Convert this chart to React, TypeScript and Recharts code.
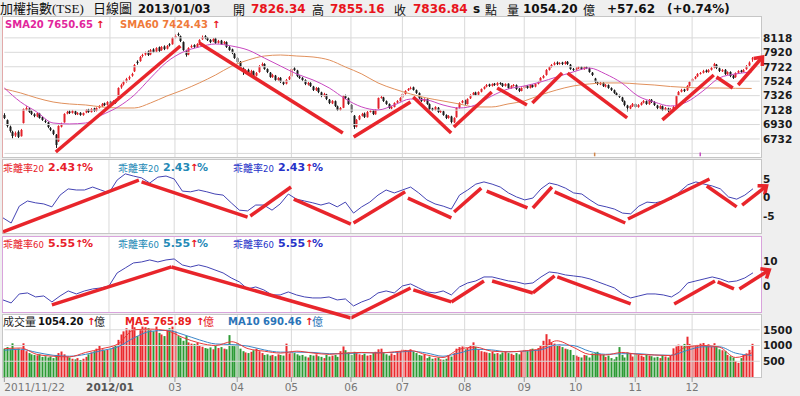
import React from "react";
import { ComposedChart, Bar, Line, XAxis, YAxis, ReferenceLine } from "recharts";

// ---------------- data ----------------
const OPEN = [
  7060,6990,6900,6830,6780,6830,6770,6950,7130,7150,
  7110,7070,7040,7080,7030,6980,6960,6880,6850,6790,
  6700,6900,6960,7080,7110,7090,7110,7070,7090,7060,
  7095,7135,7100,7150,7120,7160,7180,7220,7200,7245,
  7220,7260,7300,7440,7480,7520,7560,7600,7660,7790,
  7800,7870,7890,7930,7890,7960,7930,7990,7950,8000,
  7970,8030,8030,8120,8170,8140,8060,7940,7890,7990,
  8020,7990,8040,8100,8140,8120,8090,8070,8110,8050,
  8080,8040,8060,7990,7960,7900,7840,7790,7700,7640,
  7680,7620,7660,7600,7650,7740,7760,7690,7640,7580,
  7600,7540,7570,7510,7490,7550,7590,7700,7670,7590,
  7570,7540,7480,7500,7450,7400,7430,7370,7320,7340,
  7270,7220,7250,7180,7130,7160,7320,7290,7200,7050,
  6900,7000,7050,7080,7030,7110,7120,7070,7150,7300,
  7300,7250,7210,7150,7170,7230,7250,7300,7350,7400,
  7420,7440,7400,7360,7290,7250,7280,7210,7150,7130,
  7160,7100,7110,7060,7020,7040,6960,7030,7160,7230,
  7260,7210,7290,7340,7370,7340,7380,7420,7450,7480,
  7460,7490,7470,7500,7490,7460,7490,7430,7460,7470,
  7420,7390,7430,7460,7430,7470,7450,7490,7520,7570,
  7610,7680,7720,7750,7780,7760,7780,7760,7790,7750,
  7690,7680,7700,7720,7690,7720,7700,7640,7560,7510,
  7480,7500,7450,7470,7430,7400,7360,7330,7300,7250,
  7190,7150,7180,7210,7170,7200,7230,7250,7210,7270,
  7240,7190,7150,7180,7130,7150,7110,7140,7180,7330,
  7380,7410,7400,7460,7520,7560,7590,7630,7640,7670,
  7650,7680,7710,7750,7700,7660,7680,7620,7650,7600,
  7580,7640,7670,7650,7690,7740,7826.34,
];
const HIGH = [
  7085,7000,6915,6845,6835,6850,6870,7150,7180,7165,
  7125,7085,7100,7090,7045,7000,6970,6895,6860,6800,
  6920,6955,7085,7120,7125,7130,7120,7100,7100,7095,
  7140,7145,7155,7160,7165,7195,7225,7230,7250,7255,
  7265,7275,7440,7490,7530,7570,7600,7640,7760,7810,
  7870,7900,7930,7945,7965,7975,7990,8000,8005,8015,
  8020,8045,8130,8165,8190,8150,8070,7955,7990,8025,
  8030,8045,8100,8150,8155,8130,8100,8115,8120,8090,
  8090,8075,8070,8005,7970,7910,7855,7800,7715,7690,
  7695,7680,7670,7650,7745,7780,7770,7700,7650,7625,
  7610,7580,7580,7525,7555,7595,7705,7715,7680,7605,
  7580,7550,7515,7510,7460,7445,7440,7380,7365,7350,
  7280,7265,7260,7190,7170,7335,7340,7300,7210,7060,
  7005,7060,7090,7095,7115,7130,7130,7140,7300,7325,
  7310,7260,7220,7185,7235,7265,7305,7360,7400,7430,
  7450,7450,7410,7370,7300,7290,7290,7220,7160,7180,
  7170,7130,7120,7070,7060,7050,7030,7165,7235,7265,
  7270,7290,7345,7375,7380,7385,7425,7455,7485,7490,
  7495,7500,7510,7510,7500,7495,7495,7470,7485,7480,
  7430,7440,7470,7470,7480,7480,7495,7525,7580,7610,
  7690,7730,7760,7790,7795,7785,7790,7800,7800,7760,
  7705,7715,7730,7730,7725,7730,7710,7650,7570,7520,
  7515,7510,7485,7480,7440,7410,7370,7340,7310,7260,
  7200,7195,7225,7220,7210,7240,7265,7260,7280,7280,
  7250,7200,7195,7190,7170,7160,7155,7185,7330,7390,
  7420,7420,7470,7525,7565,7595,7635,7650,7680,7685,
  7690,7720,7775,7760,7710,7690,7690,7660,7660,7610,
  7645,7675,7680,7690,7745,7795,7855.16,
];
const LOW = [
  7005,6890,6820,6740,6760,6745,6765,6945,7120,7090,
  7060,7030,7030,7010,6980,6950,6880,6840,6785,6609,
  6690,6890,6955,7070,7075,7080,7060,7060,7050,7050,
  7085,7090,7095,7105,7110,7150,7170,7185,7190,7200,
  7210,7215,7295,7420,7465,7505,7540,7585,7650,7750,
  7790,7850,7875,7870,7880,7910,7920,7925,7940,7950,
  7960,8000,8025,8110,8140,8060,7940,7860,7880,7980,
  7980,7985,8030,8090,8100,8075,8045,8060,8035,8040,
  8020,8030,7980,7940,7895,7830,7770,7690,7610,7625,
  7605,7610,7580,7590,7640,7725,7680,7635,7570,7570,
  7525,7530,7500,7470,7480,7540,7585,7665,7580,7555,
  7525,7470,7465,7445,7390,7390,7360,7305,7310,7265,
  7210,7210,7170,7115,7120,7155,7280,7200,7090,6870,
  6890,6990,7040,7020,7025,7095,7060,7065,7145,7285,
  7240,7200,7145,7140,7165,7220,7245,7295,7340,7390,
  7410,7395,7350,7280,7240,7240,7200,7130,7115,7120,
  7090,7090,7050,7005,7010,6945,6950,7025,7150,7220,
  7200,7205,7280,7330,7325,7330,7370,7410,7440,7445,
  7450,7460,7460,7475,7445,7450,7420,7420,7450,7405,
  7375,7385,7420,7420,7425,7435,7440,7480,7510,7560,
  7600,7670,7710,7740,7745,7750,7745,7750,7745,7680,
  7665,7670,7690,7680,7680,7690,7640,7595,7500,7470,
  7470,7445,7440,7420,7390,7350,7320,7295,7240,7180,
  7110,7140,7170,7160,7160,7190,7220,7200,7200,7225,
  7185,7140,7140,7115,7120,7100,7100,7130,7175,7320,
  7370,7375,7390,7450,7510,7550,7580,7615,7630,7640,
  7640,7670,7700,7690,7650,7650,7610,7610,7580,7555,
  7570,7630,7640,7645,7680,7730,7790,
];
const CLOSE = [
  7020,6910,6842,6773,6815,6760,6855,7143,7157,7102,
  7075,7047,7088,7020,6993,6965,6896,6856,6801,6650,
  6910,6938,7075,7102,7088,7116,7075,7088,7061,7088,
  7130,7102,7143,7116,7157,7185,7212,7198,7239,7212,
  7253,7226,7431,7472,7513,7554,7582,7623,7746,7773,
  7856,7883,7910,7883,7951,7924,7979,7938,7993,7965,
  8006,8020,8116,8143,8157,8075,7951,7883,7979,8006,
  7993,8034,8088,8130,8116,8088,8061,8102,8047,8075,
  8034,8061,7993,7951,7910,7842,7787,7705,7650,7677,
  7623,7664,7595,7636,7732,7760,7691,7650,7582,7609,
  7541,7568,7513,7486,7541,7582,7691,7677,7595,7568,
  7541,7486,7500,7458,7404,7431,7376,7321,7349,7280,
  7225,7253,7184,7130,7157,7321,7294,7212,7102,6897,
  6993,7047,7075,7034,7102,7116,7075,7130,7294,7308,
  7253,7212,7157,7171,7226,7253,7294,7349,7390,7417,
  7431,7404,7363,7294,7253,7280,7212,7143,7130,7171,
  7102,7116,7061,7020,7047,6965,7020,7157,7225,7253,
  7212,7280,7335,7363,7335,7376,7417,7445,7472,7458,
  7486,7472,7500,7486,7458,7486,7431,7458,7472,7417,
  7390,7431,7458,7431,7472,7445,7486,7513,7568,7595,
  7677,7718,7746,7773,7760,7773,7760,7787,7760,7691,
  7677,7705,7718,7691,7718,7705,7650,7609,7513,7486,
  7500,7458,7472,7431,7404,7363,7335,7308,7253,7198,
  7157,7184,7212,7171,7198,7226,7253,7212,7267,7239,
  7198,7157,7184,7130,7157,7116,7143,7171,7321,7376,
  7404,7390,7458,7513,7554,7582,7623,7636,7664,7650,
  7677,7705,7760,7705,7664,7677,7623,7650,7595,7568,
  7636,7664,7650,7677,7732,7779.22,7836.84,
];
const VOLUME = [
  900,950,880,1070,870,900,860,1070,820,760,
  720,700,690,720,640,660,620,650,600,700,
  760,810,720,640,620,580,560,600,540,580,
  640,720,780,820,900,985,880,850,860,900,
  950,1000,1180,1350,1450,1550,1500,1656,1580,1300,
  1500,1600,1580,1550,1500,1450,1600,1400,1350,1300,
  1500,1550,1600,1450,1300,1250,1150,1300,1100,1060,
  1050,1080,1000,960,920,900,940,880,1000,920,
  950,900,880,1330,1000,980,1073,900,820,780,
  760,800,850,900,820,760,700,720,680,700,
  660,720,700,680,1060,750,800,760,720,680,
  700,650,620,700,680,720,660,640,600,700,
  650,680,700,640,820,970,850,780,700,800,
  760,720,700,740,680,700,760,800,880,900,
  760,720,680,750,700,800,820,870,860,830,
  880,800,760,700,680,720,600,650,580,600,
  620,560,550,580,700,650,760,900,950,970,
  880,920,1000,1100,960,880,820,800,780,760,
  800,740,760,720,780,800,760,740,700,760,
  720,800,860,820,880,900,850,920,1000,1150,
  1360,1200,1100,1060,1000,1030,950,900,880,860,
  700,680,640,620,700,680,620,750,760,800,
  720,700,640,680,600,560,640,950,700,620,
  780,760,650,720,700,680,640,700,680,660,
  620,640,600,700,650,620,680,910,970,1030,
  1000,1050,1280,1050,1000,980,1020,1060,1080,1000,
  1040,970,1073,950,880,850,820,700,660,620,
  510,450,600,700,750,860,1054.2,
];

// moving averages, read every 6 sessions
const MA_STEP = 6;
const SMA20 = [7431,7239,7102,6951,6938,6951,7061,7171,7335,7568,7787,7924,7993,8034,8006,7951,7842,7732,7623,7541,7431,7280,7171,7130,7198,7280,7267,7198,7157,7198,7321,7417,7458,7513,7582,7650,7705,7623,7500,7321,7239,7184,7239,7390,7568,7623,7650.65];
const SMA60 = [7418,7363,7294,7239,7212,7198,7171,7157,7157,7226,7321,7404,7500,7609,7732,7814,7869,7883,7869,7856,7814,7718,7623,7500,7417,7349,7294,7253,7212,7171,7171,7212,7253,7335,7404,7458,7486,7500,7500,7486,7472,7451,7438,7431,7431,7427,7424.43];
const VOL_MA5 = [900,920,720,660,640,780,900,1050,1500,1520,1470,1250,1080,1000,1120,900,820,760,820,760,720,760,780,760,800,840,700,620,880,950,820,800,830,900,1150,950,720,700,780,720,700,680,960,1000,950,620,765.89];
const VOL_MA10 = [850,880,780,690,660,720,840,960,1250,1450,1480,1350,1180,1050,1030,980,860,790,790,780,740,740,770,770,780,820,760,660,760,880,860,800,820,860,1020,1000,820,720,740,740,700,690,840,960,960,760,690.46];

// bias ratios, read every 3 sessions
const BIAS_STEP = 3;
const BIAS20 = [
  -5.5,-6.9,-2.3,-0.9,-1.4,-1.7,-2.5,0.7,2.4,2.1,
  2.1,2.9,2.1,1.3,4.8,6.5,5.9,5.4,4.0,5.6,
  5.9,5.1,1.8,1.6,2.1,1.6,1.0,0.7,-1.4,-3.4,
  -3.6,-2.0,-2.0,-3.4,-1.7,1.0,-0.4,-0.9,-1.4,-2.0,
  -1.4,-2.5,-1.2,-4.2,-2.5,-1.2,0.7,2.1,1.3,2.1,
  2.9,1.3,-0.6,-1.7,-2.3,-3.1,0.7,2.1,3.7,4.3,
  3.7,2.9,1.3,0.2,-0.6,-0.1,2.4,4.0,3.5,2.6,
  1.3,1.0,-0.6,-2.0,-2.5,-3.1,-4.2,-4.4,-2.3,-1.2,
  -1.4,-0.9,-0.4,1.6,3.5,4.3,3.7,3.2,2.4,0.2,
  -0.4,0.7,2.43,
];
const BIAS60 = [
  -5.3,-6.5,-2.9,-2.5,-4.1,-3.7,-6.1,-3.7,-1.7,-2.9,
  -1.7,-0.9,-0.5,0.3,5.5,7.5,9.5,9.9,10.7,9.9,
  10.7,11.1,8.7,7.9,8.7,7.9,6.7,5.5,3.5,1.9,
  -0.9,-0.1,-1.3,-3.3,-3.3,-2.1,-3.3,-4.1,-4.5,-4.5,
  -4.1,-5.3,-4.9,-7.7,-6.1,-4.9,-2.5,-1.7,-2.5,0.3,
  1.1,-0.5,-2.1,-2.5,-1.7,-3.3,-0.1,1.5,2.3,3.9,
  3.9,3.1,2.3,1.9,1.1,1.5,3.9,5.9,5.5,4.7,
  4.3,3.9,3.1,1.9,0.7,-0.5,-2.9,-4.5,-3.7,-2.9,
  -2.9,-3.3,-4.1,-2.1,1.5,2.3,3.1,3.9,3.1,1.9,
  2.3,3.5,5.55,
];

// hand-drawn trend annotations: [startSession, startValue, endSession, endValue]
const PRICE_TRENDS = [
  [19,6554,65,8006],[72,8047,125,6814],[129,6760,150,7239],[151,7308,165,6814],
  [166,6897,180,7376],[182,7431,193,7198],[195,7225,206,7636],[208,7636,230,7020],
  [243,6993,262,7609],[263,7582,269,7431],
];
const PRICE_ARROW = [271,7472,280,7856];
const BIAS20_TRENDS = [
  [0,-9.3,50,4.8],[51,4.3,90,-5.3],[91,-5.0,106,2.9],[107,-0.4,128,-7.2],
  [129,-6.9,148,1.6],[149,-0.1,165,-5.5],[166,-3.9,176,2.6],[178,1.8,193,-2.8],
  [195,-2.8,202,2.9],[203,1.6,229,-6.9],[230,-5.8,260,5.1],[259,3.2,270,-2.5],
];
const BIAS20_ARROW = [272,-2.0,281,3.2];
const BIAS60_TRENDS = [
  [18,-7.3,62,7.9],[62,7.9,128,-12.5],[128,-12.5,150,-0.5],[151,-1.3,165,-6.1],
  [165,-6.1,177,2.3],[180,2.3,195,-2.5],[195,-2.5,203,4.3],[204,3.9,231,-6.9],
  [247,-6.9,262,2.3],[263,1.9,269,-0.9],
];
const BIAS60_ARROW = [271,-0.9,282,6.7];

// small event markers at the foot of the price panel: [session, color]
const EVENT_MARKS: [number, string][] = [[218, "#d0864a"], [257, "#c44cc0"]];
const EVENT_SPAN = [6495, 6545];

// axes
const MONTH_TICKS = [0,39,63,86,106,128,147,170,192,211,233,254];
const MONTH_LABELS = ["2011/11/22","2012/01","03","04","05","06","07","08","09","10","11","12"];
const PRICE_TICKS = [8118,7920,7722,7524,7326,7128,6930,6732];
const PRICE_GRID = [8118,7920,7722,7524,7326,7128,6930,6732,6534];
const BIAS20_TICKS = [5,0,-5];
const BIAS60_TICKS = [10,0];
const VOL_TICKS = [1500,1000,500];
const PRICE_DOMAIN = [6485, 8404];
const BIAS20_DOMAIN = [-9.62, 10.27];
const BIAS60_DOMAIN = [-10.12, 19.88];
const VOL_DOMAIN = [0, 1969];

// ---------------- layout / style ----------------
const SLOTS = 284;
const GRID_END = 279;
const PLOT_W = 769;
const AXIS_W = 40;
const PAD = 8;
const BG = "#efefef";
const GRID = "#d9d9d9";
const UP = "#e4222a";
const DOWN = "#1a1a1a";
const VUP = "#ea2a2e";
const VDOWN = "#2c9a34";
const TREND = "#e8252b";
const LATIN = '"DejaVu Sans", Verdana, sans-serif';
const CJK = '"Noto Sans CJK TC", "Noto Sans CJK SC", sans-serif';
const TITLE_FONT = '"Liberation Serif", "Noto Sans CJK TC", serif';

const last = (a: number[]) => a[a.length - 1];

const rows = Array.from({ length: SLOTS }, (_, i) => {
  const has = i < CLOSE.length;
  const m = i % MA_STEP === 0 && i / MA_STEP < SMA20.length;
  const b = i % BIAS_STEP === 0 && i / BIAS_STEP < BIAS20.length;
  return {
    i,
    hl: has ? [LOW[i], HIGH[i]] : null,
    o: has ? OPEN[i] : null,
    h: has ? HIGH[i] : null,
    l: has ? LOW[i] : null,
    c: has ? CLOSE[i] : null,
    v: has ? VOLUME[i] : null,
    up: has ? CLOSE[i] >= OPEN[i] : false,
    sma20: m ? SMA20[i / MA_STEP] : null,
    sma60: m ? SMA60[i / MA_STEP] : null,
    vma5: m ? VOL_MA5[i / MA_STEP] : null,
    vma10: m ? VOL_MA10[i / MA_STEP] : null,
    b20: b ? BIAS20[i / BIAS_STEP] : null,
    b60: b ? BIAS60[i / BIAS_STEP] : null,
  };
});

const Candle = (p: any) => {
  const { x, y, width, height, payload } = p;
  if (!payload || payload.h == null) return <g />;
  const top = Math.min(y, y + height);
  const bot = Math.max(y, y + height);
  const span = payload.h - payload.l;
  const toPix = (v: number) => (span > 0 ? top + ((payload.h - v) / span) * (bot - top) : top);
  const cx = Math.round(x + width / 2);
  const color = payload.c >= payload.o ? UP : DOWN;
  const yo = toPix(payload.o);
  const yc = toPix(payload.c);
  const bt = Math.min(yo, yc);
  const bh = Math.max(1, Math.abs(yo - yc));
  return (
    <g>
      <line x1={cx + 0.5} x2={cx + 0.5} y1={top} y2={bot} stroke={color} strokeWidth={1} />
      <rect x={cx - 0.5} y={bt} width={2} height={bh} fill={color} />
    </g>
  );
};

const VolBar = (p: any) => {
  const { x, y, width, height, payload } = p;
  if (!payload || payload.v == null) return <g />;
  const cx = Math.round(x + width / 2);
  return <rect x={cx - 0.5} y={y} width={2} height={Math.max(0, height)} fill={payload.up ? VUP : VDOWN} />;
};

const arrowShape = (p: any) => {
  const { x1, y1, x2, y2 } = p;
  const ang = Math.atan2(y2 - y1, x2 - x1);
  const len = 9;
  const a1 = ang + Math.PI * 0.78;
  const a2 = ang - Math.PI * 0.78;
  const pts = `${x2 + len * Math.cos(a1)},${y2 + len * Math.sin(a1)} ${x2},${y2} ${x2 + len * Math.cos(a2)},${y2 + len * Math.sin(a2)}`;
  return (
    <g>
      <line x1={x1} y1={y1} x2={x2} y2={y2} stroke={TREND} strokeWidth={3.5} />
      <polyline points={pts} fill="none" stroke={TREND} strokeWidth={3.5} strokeLinejoin="miter" />
    </g>
  );
};

const YTick = (p: any) => (
  <text x={p.x - 9} y={p.y} dy="0.36em" textAnchor="start" fontSize={10.5} fontWeight="bold" fontFamily={LATIN} fill="#1a1a1a">
    {p.payload.value}
  </text>
);

const XTick = (p: any) => {
  const k = MONTH_TICKS.indexOf(p.payload.value);
  if (k < 0) return <g />;
  const label = MONTH_LABELS[k];
  const first = k === 0;
  const bold = label === "2012/01";
  return (
    <g>
      <line x1={p.x} x2={p.x} y1={p.y} y2={p.y + 5} stroke="#9a9a9a" />
      <text x={p.x} y={p.y + 10} dy="0.36em" textAnchor={first ? "start" : "middle"} fontSize={10.5} fontWeight={bold ? "bold" : "normal"} fontFamily={LATIN} fill={bold ? "#555" : "#777"}>
        {label}
      </text>
    </g>
  );
};

const vGrid = (prefix: string) =>
  MONTH_TICKS.slice(1).map((t) => <ReferenceLine key={`${prefix}v${t}`} x={t} stroke={GRID} strokeWidth={1} />);
const hGrid = (prefix: string, vals: number[]) =>
  vals.map((v) => (
    <ReferenceLine key={`${prefix}h${v}`} segment={[{ x: 0, y: v }, { x: GRID_END, y: v }]} stroke={GRID} strokeWidth={1} />
  ));
const trends = (prefix: string, segs: number[][], arrow: number[]) => [
  ...segs.map(([a, va, b, vb], k) => (
    <ReferenceLine key={`${prefix}t${k}`} segment={[{ x: a, y: va }, { x: b, y: vb }]} stroke={TREND} strokeWidth={3.5} ifOverflow="visible" />
  )),
  <ReferenceLine key={`${prefix}arrow`} segment={[{ x: arrow[0], y: arrow[1] }, { x: arrow[2], y: arrow[3] }]} stroke={TREND} strokeWidth={3.5} ifOverflow="visible" shape={arrowShape} />,
];

const yAxis = (domain: number[], ticks: number[]) => (
  <YAxis
    orientation="right"
    width={AXIS_W}
    type="number"
    domain={domain}
    allowDataOverflow
    ticks={ticks}
    interval={0}
    tick={<YTick />}
    tickLine={false}
    axisLine={false}
    tickSize={0}
    tickMargin={0}
  />
);

const Txt = ({ x, y, size = 10, color = "#111", bold = false, cjk = false, font, children }: any) => (
  <span
    style={{
      position: "absolute",
      left: x,
      top: y - Math.round(size * 0.7),
      fontSize: size,
      lineHeight: `${Math.round(size * 1.4)}px`,
      color,
      fontWeight: bold ? 700 : 400,
      fontFamily: font || (cjk ? CJK : LATIN),
      whiteSpace: "nowrap",
    }}
  >
    {children}
  </span>
);

const panel = (top: number, height: number, border: string, left: string) => ({
  position: "absolute" as const,
  left: 2,
  top,
  width: 760,
  height,
  boxSizing: "border-box" as const,
  background: "#fff",
  border: `1px solid ${border}`,
  borderLeftColor: left,
});

const BiasLegend = ({ y, period, value }: { y: number; period: string; value: number }) => {
  const sets = [
    { x: 3, color: "#e8202a" },
    { x: 118, color: "#2489b6" },
    { x: 233, color: "#2531c8" },
  ];
  return (
    <>
      {sets.map((s, k) => (
        <React.Fragment key={k}>
          <Txt x={s.x} y={y} size={10} color={s.color} cjk>
            乖離率<span style={{ fontFamily: LATIN, fontSize: 8.5 }}>{period}</span>
          </Txt>
          <Txt x={s.x + 45} y={y} size={11} color={s.color} bold>
            {value.toFixed(2)}
          </Txt>
          <Txt x={s.x + 72} y={y} size={10} color="#e8141c" bold>
            ↑
          </Txt>
          <Txt x={s.x + 79} y={y} size={11} color={s.color} bold>
            %
          </Txt>
        </React.Fragment>
      ))}
    </>
  );
};

export default function App() {
  const n = CLOSE.length;
  const chg = CLOSE[n - 1] - CLOSE[n - 2];
  const pct = (chg / CLOSE[n - 2]) * 100;
  return (
    <div style={{ position: "absolute", left: 0, top: 0, width: 800, height: 396, background: BG, overflow: "hidden" }}>
      {/* panel backgrounds */}
      <div style={panel(16, 142, "#c6c6c6", "#e2a9a9")} />
      <div style={panel(159, 75, "#c6c6c6", "#e2a9a9")} />
      <div style={panel(236, 77, "#d9a3dc", "#d9a3dc")} />
      <div style={panel(314, 64, "#c6c6c6", "#c6c6c6")} />

      {/* price panel */}
      <div style={{ position: "absolute", left: 3, top: 17 - PAD }}>
        <ComposedChart width={PLOT_W + AXIS_W} height={140 + 2 * PAD} data={rows} margin={{ top: PAD, right: 0, bottom: PAD, left: 0 }}>
          <XAxis dataKey="i" type="category" hide />
          {yAxis(PRICE_DOMAIN, PRICE_TICKS)}
          {vGrid("p")}
          {hGrid("p", PRICE_GRID)}
          {EVENT_MARKS.map(([s, col]) => (
            <ReferenceLine key={`ev${s}`} segment={[{ x: s, y: EVENT_SPAN[0] }, { x: s, y: EVENT_SPAN[1] }]} stroke={col} strokeWidth={1.5} />
          ))}
          <Bar dataKey="hl" shape={Candle} isAnimationActive={false} />
          <Line dataKey="sma60" type="monotone" stroke="#e0905c" strokeWidth={1} dot={false} connectNulls isAnimationActive={false} />
          <Line dataKey="sma20" type="monotone" stroke="#c848c0" strokeWidth={1} dot={false} connectNulls isAnimationActive={false} />
          {trends("p", PRICE_TRENDS, PRICE_ARROW)}
        </ComposedChart>
      </div>

      {/* bias 20 panel */}
      <div style={{ position: "absolute", left: 3, top: 160 - PAD }}>
        <ComposedChart width={PLOT_W + AXIS_W} height={73 + 2 * PAD} data={rows} margin={{ top: PAD, right: 0, bottom: PAD, left: 0 }}>
          <XAxis dataKey="i" type="category" hide />
          {yAxis(BIAS20_DOMAIN, BIAS20_TICKS)}
          {vGrid("b")}
          {hGrid("b", BIAS20_TICKS)}
          <Line dataKey="b20" type="linear" stroke="#4444b4" strokeWidth={1} dot={false} connectNulls isAnimationActive={false} />
          {trends("b", BIAS20_TRENDS, BIAS20_ARROW)}
        </ComposedChart>
      </div>

      {/* bias 60 panel */}
      <div style={{ position: "absolute", left: 3, top: 237 - PAD }}>
        <ComposedChart width={PLOT_W + AXIS_W} height={75 + 2 * PAD} data={rows} margin={{ top: PAD, right: 0, bottom: PAD, left: 0 }}>
          <XAxis dataKey="i" type="category" hide />
          {yAxis(BIAS60_DOMAIN, BIAS60_TICKS)}
          {vGrid("c")}
          {hGrid("c", BIAS60_TICKS)}
          <Line dataKey="b60" type="linear" stroke="#4444b4" strokeWidth={1} dot={false} connectNulls isAnimationActive={false} />
          {trends("c", BIAS60_TRENDS, BIAS60_ARROW)}
        </ComposedChart>
      </div>

      {/* volume panel */}
      <div style={{ position: "absolute", left: 3, top: 315 - PAD }}>
        <ComposedChart width={PLOT_W + AXIS_W} height={62 + PAD + 20} data={rows} margin={{ top: PAD, right: 0, bottom: 0, left: 0 }}>
          <XAxis dataKey="i" type="category" height={20} interval={0} tick={<XTick />} tickLine={false} axisLine={false} tickSize={0} tickMargin={0} />
          {yAxis(VOL_DOMAIN, VOL_TICKS)}
          {vGrid("v")}
          {hGrid("v", VOL_TICKS)}
          <Bar dataKey="v" shape={VolBar} isAnimationActive={false} />
          <Line dataKey="vma10" type="monotone" stroke="#3a86c8" strokeWidth={1} dot={false} connectNulls isAnimationActive={false} />
          <Line dataKey="vma5" type="monotone" stroke="#e83a3a" strokeWidth={1} dot={false} connectNulls isAnimationActive={false} />
        </ComposedChart>
      </div>

      {/* title line */}
      <Txt x={0} y={9} size={13} color="#111" font={TITLE_FONT}>加權指數(TSE)</Txt>
      <Txt x={93} y={9} size={13} color="#111" font={TITLE_FONT}>日線圖</Txt>
      <Txt x={138} y={9} size={11.5} color="#111" bold>2013/01/03</Txt>
      <Txt x={233} y={9} size={12} color="#111" cjk>開</Txt>
      <Txt x={251} y={9} size={12} color="#e8141c" bold>{OPEN[n - 1].toFixed(2)}</Txt>
      <Txt x={312} y={9} size={12} color="#111" cjk>高</Txt>
      <Txt x={330} y={9} size={12} color="#e8141c" bold>{HIGH[n - 1].toFixed(2)}</Txt>
      <Txt x={394} y={9} size={12} color="#111" cjk>收</Txt>
      <Txt x={413} y={9} size={12} color="#e8141c" bold>{CLOSE[n - 1].toFixed(2)}</Txt>
      <Txt x={473} y={9} size={12} color="#111" bold>s</Txt>
      <Txt x={485} y={9} size={12} color="#111" cjk>點</Txt>
      <Txt x={507} y={9} size={12} color="#111" cjk>量</Txt>
      <Txt x={523} y={9} size={12} color="#111" bold>{VOLUME[n - 1].toFixed(2)}</Txt>
      <Txt x={583} y={9} size={12} color="#111" cjk>億</Txt>
      <Txt x={607} y={9} size={12} color="#111" bold>{`+${chg.toFixed(2)}`}</Txt>
      <Txt x={667} y={9} size={12} color="#111" bold>{`(+${pct.toFixed(2)}%)`}</Txt>

      {/* price legend */}
      <Txt x={5} y={25} size={10} color="#e2269c" bold>{`SMA20 ${last(SMA20).toFixed(2)}`}</Txt>
      <Txt x={96} y={25} size={10} color="#e8141c" bold>↑</Txt>
      <Txt x={120} y={25} size={10} color="#ef7a3a" bold>{`SMA60 ${last(SMA60).toFixed(2)}`}</Txt>
      <Txt x={212} y={25} size={10} color="#e8141c" bold>↑</Txt>

      {/* bias legends */}
      <BiasLegend y={168} period="20" value={last(BIAS20)} />
      <BiasLegend y={244} period="60" value={last(BIAS60)} />

      {/* volume legend */}
      <Txt x={3} y={322} size={11} color="#222" cjk>成交量</Txt>
      <Txt x={38} y={322} size={10} color="#111" bold>{VOLUME[n - 1].toFixed(2)}</Txt>
      <Txt x={87} y={322} size={10} color="#e8141c" bold>↑</Txt>
      <Txt x={94} y={322} size={11} color="#222" cjk>億</Txt>
      <Txt x={125} y={322} size={10} color="#e82020" bold>{`MA5 ${last(VOL_MA5).toFixed(2)}`}</Txt>
      <Txt x={196} y={322} size={10} color="#e8141c" bold>↑</Txt>
      <Txt x={203} y={322} size={11} color="#e82020" cjk>億</Txt>
      <Txt x={228} y={322} size={10} color="#2a74b8" bold>{`MA10 ${last(VOL_MA10).toFixed(2)}`}</Txt>
      <Txt x={305} y={322} size={10} color="#e8141c" bold>↑</Txt>
      <Txt x={312} y={322} size={11} color="#2a74b8" cjk>億</Txt>
    </div>
  );
}
